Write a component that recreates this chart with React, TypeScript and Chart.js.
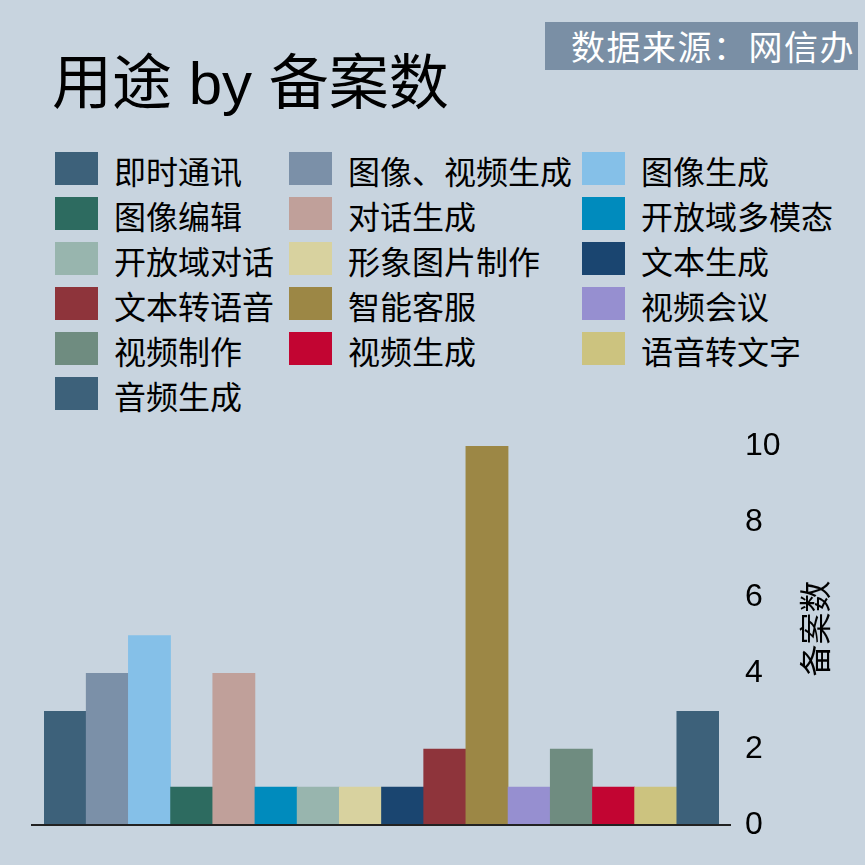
import { useEffect, useRef } from 'react';
import {
  Chart,
  BarController,
  BarElement,
  CategoryScale,
  LinearScale,
} from 'chart.js';

Chart.register(BarController, BarElement, CategoryScale, LinearScale);

const title = '用途 by 备案数';
const source = '数据来源：网信办';
const yTitle = '备案数';

const categories = [
  '即时通讯', '图像、视频生成', '图像生成',
  '图像编辑', '对话生成', '开放域多模态',
  '开放域对话', '形象图片制作', '文本生成',
  '文本转语音', '智能客服', '视频会议',
  '视频制作', '视频生成', '语音转文字',
  '音频生成',
];
const counts = [3, 4, 5, 1, 4, 1, 1, 1, 1, 2, 10, 1, 2, 1, 1, 3];
const colors = [
  '#3d617a', '#7b90a8', '#85c0e8',
  '#2d6b60', '#c0a09a', '#008bbd',
  '#98b5ae', '#d8d29f', '#1a4570',
  '#8e343b', '#9c8745', '#968fd0',
  '#6f8c80', '#c20532', '#ccc37f',
  '#3d617a',
];
const yTicks = [0, 2, 4, 6, 8, 10];

const BG = '#c8d4df';
const CJK = '"Noto Sans CJK SC", sans-serif';
const LATIN = '"Liberation Sans", Arial, "Noto Sans CJK SC", sans-serif';

// baseline that sticks out past the bars + y title reading bottom-to-top
const extras = {
  id: 'extras',
  afterDraw(chart: Chart) {
    const { ctx, chartArea } = chart;
    const y0 = chart.scales.y.getPixelForValue(0);
    ctx.save();
    ctx.strokeStyle = '#222';
    ctx.lineWidth = 2;
    ctx.beginPath();
    ctx.moveTo(chartArea.left - 13, y0);
    ctx.lineTo(chartArea.right + 12, y0);
    ctx.stroke();
    ctx.translate(chartArea.right + 96, (chartArea.top + chartArea.bottom) / 2 - 7);
    ctx.rotate(-Math.PI / 2);
    ctx.font = `32px ${CJK}`;
    ctx.fillStyle = '#000';
    ctx.textAlign = 'center';
    ctx.textBaseline = 'middle';
    ctx.fillText(yTitle, 0, 0);
    ctx.restore();
  },
};

const BarChart = () => {
  const canvasRef = useRef<HTMLCanvasElement | null>(null);
  const chartRef = useRef<Chart | null>(null);

  useEffect(() => {
    if (!canvasRef.current) return;
    chartRef.current?.destroy();

    chartRef.current = new Chart(canvasRef.current, {
      type: 'bar',
      data: {
        labels: categories,
        datasets: [
          {
            data: counts,
            backgroundColor: colors,
            borderWidth: 0,
            barPercentage: 1,
            categoryPercentage: 1,
          },
        ],
      },
      options: {
        animation: false,
        responsive: true,
        maintainAspectRatio: false,
        layout: { padding: { left: 44, top: 26, bottom: 40, right: 0 } },
        plugins: { legend: { display: false }, tooltip: { enabled: false } },
        scales: {
          x: { display: false },
          y: {
            position: 'right',
            min: 0,
            max: 10,
            afterBuildTicks: (s: any) => {
              s.ticks = yTicks.map((v) => ({ value: v }));
            },
            afterFit: (s: any) => {
              s.width = 146;
              // tick padding is horizontal only here
              s.paddingTop = 0;
              s.paddingBottom = 0;
            },
            grid: { display: false, drawTicks: false },
            border: { display: false },
            ticks: {
              padding: 26,
              color: '#000',
              font: { family: LATIN, size: 32 },
            },
          },
        },
      },
      plugins: [extras],
    });

    return () => chartRef.current?.destroy();
  }, []);

  return <canvas ref={canvasRef} />;
};

const App = () => {
  return (
    <div
      style={{
        position: 'absolute',
        left: 0,
        top: 0,
        width: 865,
        height: 865,
        background: BG,
        overflow: 'hidden',
      }}
    >
      <div
        style={{
          position: 'absolute',
          left: 52,
          top: 48,
          fontFamily: LATIN,
          fontSize: 60,
          lineHeight: '72px',
          color: '#000',
          whiteSpace: 'nowrap',
        }}
      >
        {title}
      </div>
      <div
        style={{
          position: 'absolute',
          left: 545,
          top: 22,
          width: 313,
          height: 48,
          background: '#7a8fa5',
          color: '#fff',
          fontFamily: CJK,
          fontSize: 34,
          letterSpacing: 1.5,
          lineHeight: '48px',
          textAlign: 'right',
          paddingRight: 3,
          boxSizing: 'border-box',
          whiteSpace: 'nowrap',
        }}
      >
        {source}
      </div>
      {categories.map((c, i) => {
        const col = i % 3;
        const row = Math.floor(i / 3);
        const left = [55, 289, 582][col];
        const top = 152 + row * 45;
        return (
          <div
            key={c}
            style={{ position: 'absolute', left, top, height: 33, whiteSpace: 'nowrap' }}
          >
            <div
              style={{
                position: 'absolute',
                left: 0,
                top: 0,
                width: 43,
                height: 33,
                background: colors[i],
              }}
            />
            <div
              style={{
                position: 'absolute',
                left: 59,
                top: -5,
                fontFamily: CJK,
                fontSize: 32,
                lineHeight: '46px',
                color: '#000',
              }}
            >
              {c}
            </div>
          </div>
        );
      })}
      <div style={{ position: 'absolute', left: 0, top: 420, width: 865, height: 445 }}>
        <BarChart />
      </div>
    </div>
  );
};

export default App;
